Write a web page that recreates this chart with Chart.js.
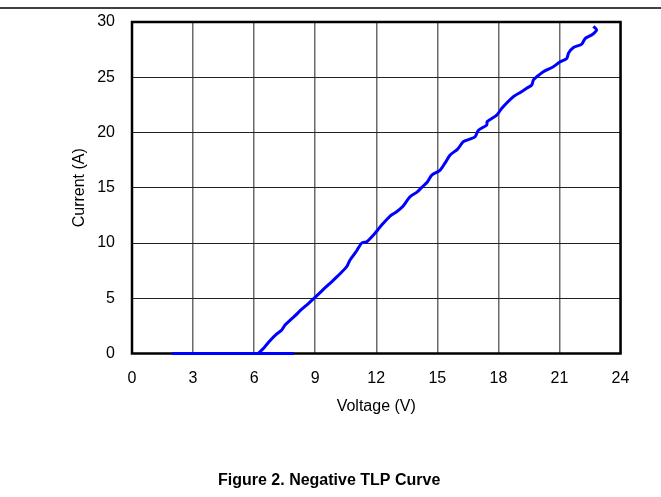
<!DOCTYPE html>
<html>
<head>
<meta charset="utf-8">
<title>Negative TLP Curve</title>
<script src="https://cdn.jsdelivr.net/npm/chart.js@4/dist/chart.umd.min.js"></script>
<style>
  html, body { margin: 0; padding: 0; background: #fff; }
  canvas { display: block; }
</style>
</head>
<body>
<canvas id="tlp" width="661" height="497"></canvas>
<script>
// Off-state segment (device not yet triggered, current stays at zero)
const offVoltage = [1.95, 7.96];
const offCurrent = [0, 0];

// Snapback / on-state TLP measurement, voltage in V and current in A
const tlpVoltage = [
  6.2, 6.5, 6.8, 7.1, 7.36, 7.52, 7.76, 8.0, 8.3, 8.65,
  9.03, 9.4, 9.73, 10.1, 10.55, 10.71, 11.04, 11.29, 11.53, 11.94,
  12.1, 12.27, 12.68, 13.0, 13.3, 13.66, 14.0, 14.24, 14.5, 14.73,
  15.14, 15.4, 15.63, 16.0, 16.28, 16.6, 16.86, 17.02, 17.43, 17.45,
  17.92, 18.17, 18.74, 19.1, 19.39, 19.64, 19.72, 19.89, 20.21, 20.7,
  21.0, 21.36, 21.45, 21.69, 22.1, 22.26, 22.6, 22.83, 22.67
];
const tlpCurrent = [
  0.0, 0.55, 1.2, 1.75, 2.13, 2.58, 3.0, 3.4, 3.94, 4.5,
  5.14, 5.8, 6.35, 7.0, 7.86, 8.46, 9.3, 10.0, 10.12, 10.88,
  11.24, 11.63, 12.44, 12.83, 13.3, 14.19, 14.6, 15.04, 15.5, 16.15,
  16.6, 17.3, 17.96, 18.5, 19.17, 19.4, 19.62, 20.2, 20.68, 20.98,
  21.58, 22.19, 23.24, 23.65, 24.0, 24.3, 24.75, 25.05, 25.5, 25.95,
  26.35, 26.7, 27.2, 27.7, 28.0, 28.5, 28.85, 29.3, 29.6
];

// Axis ranges and tick spacing
const voltageTicks = [0, 3, 6, 9, 12, 15, 18, 21, 24];
const currentTicks = [0, 5, 10, 15, 20, 25, 30];

const FONT = "'Liberation Sans', Arial, sans-serif";

function toPoints(xs, ys) {
  return xs.map((x, i) => ({ x: x, y: ys[i] }));
}

// Frame around the plot area, drawn under the data trace
const plotFrame = {
  id: 'plotFrame',
  beforeDatasetsDraw(chart) {
    const { ctx, chartArea: a } = chart;
    ctx.save();
    ctx.strokeStyle = '#000';
    ctx.lineWidth = 2.5;
    ctx.strokeRect(a.left, a.top, a.right - a.left, a.bottom - a.top);
    ctx.restore();
  }
};

// Page rule at the top and the figure caption underneath
const pageDecor = {
  id: 'pageDecor',
  afterDraw(chart) {
    const ctx = chart.ctx;
    ctx.save();
    ctx.strokeStyle = '#000';
    ctx.lineWidth = 1.5;
    ctx.beginPath();
    ctx.moveTo(0, 8);
    ctx.lineTo(chart.width, 8);
    ctx.stroke();
    ctx.fillStyle = '#000';
    ctx.font = "bold 16px " + FONT;
    ctx.textAlign = 'left';
    ctx.textBaseline = 'alphabetic';
    ctx.fillText('Figure 2. Negative TLP Curve', 218, 485);
    ctx.restore();
  }
};

new Chart(document.getElementById('tlp'), {
  type: 'line',
  data: {
    datasets: [
      {
        data: toPoints(offVoltage, offCurrent),
        borderColor: '#0000ff',
        borderWidth: 3,
        pointRadius: 0,
        tension: 0,
        clip: false
      },
      {
        data: toPoints(tlpVoltage, tlpCurrent),
        borderColor: '#0000ff',
        borderWidth: 3,
        pointRadius: 0,
        tension: 0.25,
        clip: false
      }
    ]
  },
  options: {
    responsive: false,
    animation: false,
    events: [],
    layout: { autoPadding: false, padding: { left: 0, right: 40.5, top: 22, bottom: 0 } },
    plugins: {
      legend: { display: false },
      title: { display: false },
      tooltip: { enabled: false }
    },
    scales: {
      x: {
        type: 'linear',
        min: voltageTicks[0],
        max: voltageTicks[voltageTicks.length - 1],
        afterBuildTicks(scale) { scale.ticks = voltageTicks.map(v => ({ value: v })); },
        afterFit(scale) {
          scale.height = 143.5;
          scale.paddingLeft = 0;
          scale.paddingRight = 0;
        },
        ticks: {
          color: '#000',
          padding: 15,
          font: { family: FONT, size: 16 },
          maxRotation: 0,
          autoSkip: false
        },
        grid: { color: '#6a6a6a', lineWidth: 1.5, drawTicks: false },
        border: { display: false },
        title: {
          display: true,
          text: 'Voltage (V)',
          color: '#000',
          font: { family: FONT, size: 16 },
          padding: { top: 0, bottom: 81 }
        }
      },
      y: {
        type: 'linear',
        min: currentTicks[0],
        max: currentTicks[currentTicks.length - 1],
        afterBuildTicks(scale) { scale.ticks = currentTicks.map(v => ({ value: v })); },
        afterFit(scale) {
          scale.width = 132;
          scale.paddingTop = 0;
          scale.paddingBottom = 0;
        },
        ticks: {
          color: '#000',
          padding: 17,
          font: { family: FONT, size: 16 },
          autoSkip: false
        },
        grid: { color: '#222', lineWidth: 1, drawTicks: false },
        border: { display: false },
        title: {
          display: true,
          text: 'Current (A)',
          color: '#000',
          font: { family: FONT, size: 16 },
          padding: { top: 70, bottom: 0 }
        }
      }
    }
  },
  plugins: [plotFrame, pageDecor]
});
</script>
</body>
</html>
